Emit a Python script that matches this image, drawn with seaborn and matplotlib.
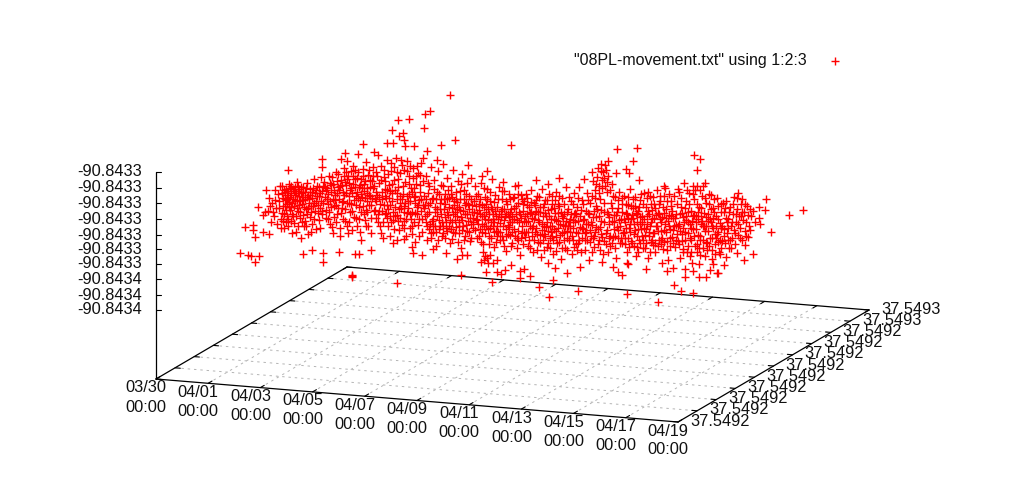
import pandas as pd
import matplotlib
matplotlib.use('Agg')
import matplotlib.pyplot as plt
import seaborn as sns

sns.set_style('white')
plt.rcParams['font.family'] = ['Liberation Sans', 'DejaVu Sans']

# base plane corners as projected on the page
front_left = (156, 379)
front_right = (678, 422)
back_left = (347, 267)
z_top = 172

date_labels = ['03/30', '04/01', '04/03', '04/05', '04/07', '04/09', '04/11', '04/13', '04/15', '04/17', '04/19']
lat_labels = ['37.5492'] * 8 + ['37.5492', '37.5493', '37.5493']
z_labels = ['-90.8433'] * 7 + ['-90.8434'] * 3
z_ticks_y = [172, 188, 203, 219, 235, 249, 264, 279, 295, 310]

# points, projected position, left to right
outliers_top = [(450, 95), (430, 111), (425, 114), (409, 119), (398, 120), (392, 130), (424, 128), (403, 133), (399, 136), (404, 140),
                (455, 140), (441, 145), (511, 145), (363, 144), (387, 143), (393, 143), (405, 146), (414, 146), (427, 151), (345, 153),
                (358, 154), (374, 152), (378, 155), (322, 159), (322, 167), (288, 170), (341, 159), (347, 161), (366, 162), (468, 165),
                (487, 171), (437, 160), (423, 158), (482, 176), (503, 182), (518, 185), (617, 149), (637, 148), (694, 155), (700, 159),
                (633, 161), (608, 161), (697, 170), (559, 178), (548, 184), (536, 180), (616, 173), (626, 169), (629, 173), (639, 180),
                (664, 186), (705, 183), (738, 193), (742, 199)]
outliers_low = [(240, 253), (248, 255), (251, 256), (259, 256), (255, 262), (303, 254), (312, 250), (323, 253), (323, 262), (339, 252),
                (355, 254), (359, 254), (371, 250), (352, 275), (352, 276), (352, 277), (397, 283), (461, 275), (492, 282), (457, 259),
                (462, 255), (467, 255), (486, 272), (497, 272), (505, 270), (501, 274), (520, 278), (520, 271), (524, 269), (483, 252),
                (485, 256), (487, 258), (484, 260), (490, 255), (488, 263), (481, 262), (493, 263), (497, 260), (511, 265), (413, 253),
                (422, 255), (433, 249), (446, 253), (412, 247), (245, 227), (253, 225), (253, 230), (263, 232), (269, 234), (255, 237),
                (258, 207), (263, 215), (265, 212), (674, 285), (681, 291), (693, 293), (658, 302), (627, 294), (578, 291), (549, 297),
                (539, 287), (553, 280), (530, 276), (567, 273), (555, 268), (548, 263), (580, 267), (602, 262), (613, 267), (618, 272),
                (622, 275), (627, 263), (628, 264), (646, 269), (662, 263), (667, 271), (673, 268), (685, 269), (685, 277), (693, 271),
                (699, 264), (699, 277), (706, 277), (713, 264), (710, 270), (717, 273), (718, 273), (724, 265), (726, 257), (737, 253),
                (744, 260), (745, 245), (748, 237), (753, 254), (750, 230), (771, 232), (760, 224), (759, 218), (750, 209), (759, 207),
                (765, 210), (766, 199), (789, 215), (803, 210)]

cloud_a = [(266, 190), (269, 198), (272, 203), (268, 211), (274, 216), (271, 222), (276, 208), (278, 194), (280, 186), (279, 201),
           (282, 213), (277, 224), (284, 228), (285, 192), (287, 204), (283, 198), (289, 184), (290, 197), (286, 210), (288, 219),
           (291, 207), (293, 189), (292, 214), (294, 223), (296, 193), (295, 201), (297, 182), (298, 211), (299, 196), (300, 218),
           (296, 232), (301, 187), (302, 204), (303, 192), (304, 226), (301, 238), (305, 199), (306, 209), (303, 215), (307, 183),
           (308, 195), (309, 203), (305, 221), (310, 189), (311, 212), (312, 198), (308, 234), (313, 206), (314, 179), (315, 193),
           (312, 224), (316, 201), (317, 186), (318, 213), (319, 196), (320, 208), (316, 229), (321, 177), (322, 191), (323, 203),
           (284, 190), (287, 195), (291, 193), (293, 199), (289, 202), (295, 187), (298, 191), (300, 201), (294, 206), (286, 200),
           (290, 188), (297, 200), (305, 192), (307, 197), (302, 197), (310, 195), (299, 205), (283, 206), (281, 219), (288, 226)]
cloud_a2 = [(282, 186), (285, 199), (288, 191), (291, 186), (292, 203), (295, 195), (298, 186), (301, 193), (303, 200), (306, 188),
            (309, 199), (312, 192), (314, 203), (317, 196), (319, 187), (321, 201), (290, 210), (293, 216), (297, 208), (300, 212),
            (304, 207), (307, 214), (311, 206), (315, 211), (318, 205), (322, 211), (284, 214), (287, 216), (275, 200), (273, 212),
            (283, 221), (286, 222), (291, 221), (296, 216), (302, 222), (306, 226), (310, 217), (314, 219), (319, 220), (275, 190),
            (270, 206), (279, 208), (282, 193), (285, 206), (288, 198), (294, 191), (299, 189), (303, 187), (308, 208), (313, 188),
            (316, 190), (320, 193), (323, 186), (281, 228), (292, 233), (298, 226), (311, 232), (320, 228), (286, 189), (289, 207)]
cloud_b = [(324, 182), (325, 197), (326, 210), (327, 188), (328, 219), (329, 176), (330, 201), (331, 192), (332, 227), (333, 184),
           (334, 206), (335, 195), (336, 172), (337, 214), (338, 187), (339, 199), (340, 236), (341, 180), (342, 208), (343, 192),
           (344, 168), (345, 221), (346, 185), (347, 203), (348, 176), (349, 196), (350, 212), (351, 188), (352, 230), (353, 166),
           (354, 200), (355, 179), (356, 218), (357, 192), (358, 172), (359, 207), (360, 185), (361, 240), (362, 197), (363, 169),
           (364, 214), (365, 181), (366, 226), (367, 193), (368, 175), (369, 205), (370, 187), (371, 233), (372, 198), (373, 167),
           (326, 190), (330, 183), (333, 199), (337, 193), (340, 186), (343, 201), (346, 193), (349, 183), (352, 193), (355, 187),
           (358, 198), (361, 179), (364, 191), (367, 201), (370, 180), (341, 213), (334, 217), (351, 204), (359, 219), (366, 210),
           (328, 204), (336, 205), (345, 182), (353, 176), (362, 188), (369, 195), (322, 214), (357, 226), (347, 226), (375, 199)]
cloud_b2 = [(325, 187), (328, 194), (331, 185), (334, 190), (337, 181), (339, 190), (342, 185), (344, 195), (347, 179), (350, 190),
            (353, 184), (356, 196), (359, 187), (361, 194), (364, 184), (367, 188), (370, 196), (373, 188), (327, 199), (331, 207),
            (335, 200), (338, 208), (342, 202), (345, 209), (349, 203), (352, 211), (356, 205), (360, 200), (363, 206), (367, 212),
            (371, 205), (374, 211), (326, 218), (330, 224), (336, 222), (343, 219), (349, 222), (354, 217), (361, 212), (365, 220),
            (371, 218), (332, 177), (338, 174), (346, 172), (351, 171), (357, 178), (363, 176), (369, 170), (373, 176), (329, 212),
            (344, 176), (355, 170), (340, 228), (348, 233), (360, 232), (368, 226), (333, 233), (376, 192), (372, 181), (365, 198)]
cloud_c = [(374, 186), (375, 210), (376, 172), (377, 195), (378, 222), (379, 183), (380, 204), (381, 166), (382, 192), (383, 238),
           (384, 177), (385, 214), (386, 198), (387, 160), (388, 226), (389, 185), (390, 205), (391, 171), (392, 193), (393, 243),
           (394, 180), (395, 216), (396, 158), (397, 199), (398, 187), (399, 230), (400, 173), (401, 208), (402, 165), (403, 194),
           (404, 221), (405, 182), (406, 236), (407, 161), (408, 201), (409, 176), (410, 214), (411, 188), (412, 226), (413, 168),
           (414, 197), (415, 242), (416, 184), (417, 207), (418, 173), (419, 219), (420, 192), (421, 163), (422, 232), (423, 181),
           (376, 218), (380, 226), (384, 205), (387, 218), (391, 222), (394, 229), (398, 221), (402, 225), (406, 219), (410, 228),
           (414, 222), (379, 197), (385, 189), (389, 198), (395, 190), (400, 196), (405, 203), (409, 194), (415, 203), (419, 200),
           (382, 211), (388, 209), (393, 212), (399, 209), (404, 212), (408, 208), (412, 212), (417, 214), (421, 211), (423, 205)]
cloud_c2 = [(376, 201), (379, 211), (382, 199), (385, 196), (387, 205), (390, 191), (392, 201), (395, 207), (397, 193), (400, 203),
            (402, 199), (404, 206), (407, 196), (410, 201), (412, 192), (415, 196), (418, 205), (421, 199), (377, 176), (381, 180),
            (384, 170), (388, 174), (391, 163), (394, 167), (397, 172), (401, 160), (404, 170), (407, 171), (410, 166), (413, 178),
            (417, 166), (420, 175), (378, 214), (383, 222), (386, 213), (390, 216), (393, 220), (397, 215), (400, 218), (404, 228),
            (407, 213), (411, 219), (415, 213), (418, 225), (422, 219), (381, 233), (390, 236), (397, 240), (404, 239), (412, 234),
            (419, 236), (385, 181), (392, 184), (398, 179), (403, 186), (409, 184), (414, 188), (420, 185), (387, 190), (416, 176)]
cloud_d = [(424, 196), (425, 216), (426, 176), (427, 240), (428, 205), (429, 186), (430, 224), (431, 167), (432, 199), (433, 232),
           (434, 180), (435, 212), (436, 246), (437, 192), (438, 171), (439, 220), (440, 203), (441, 185), (442, 236), (443, 164),
           (444, 209), (445, 194), (446, 228), (447, 178), (448, 215), (449, 198), (450, 243), (451, 186), (452, 222), (453, 170),
           (454, 205), (455, 233), (456, 192), (457, 216), (458, 181), (459, 226), (460, 199), (461, 248), (462, 174), (463, 211),
           (464, 190), (465, 236), (466, 203), (467, 183), (468, 221), (469, 196), (470, 241), (471, 178), (472, 212), (473, 228),
           (425, 205), (429, 212), (433, 219), (437, 209), (441, 214), (445, 217), (449, 207), (453, 214), (457, 209), (461, 217),
           (465, 214), (469, 209), (473, 218), (427, 226), (431, 233), (435, 226), (439, 229), (443, 226), (447, 231), (451, 229),
           (455, 220), (459, 233), (463, 226), (467, 231), (471, 224), (428, 193), (436, 199), (444, 199), (452, 197), (460, 191)]
cloud_d2 = [(424, 208), (427, 214), (430, 203), (432, 221), (435, 207), (437, 216), (440, 209), (442, 222), (445, 204), (447, 212),
            (450, 220), (452, 208), (455, 212), (457, 202), (460, 210), (462, 220), (465, 205), (467, 214), (470, 218), (472, 205),
            (426, 222), (429, 229), (433, 226), (436, 232), (440, 226), (443, 233), (446, 222), (449, 226), (453, 232), (456, 227),
            (459, 222), (462, 230), (466, 225), (469, 232), (473, 222), (428, 183), (434, 189), (439, 194), (443, 186), (448, 190),
            (451, 194), (456, 199), (461, 184), (466, 194), (471, 199), (431, 238), (438, 240), (445, 238), (452, 239), (458, 242),
            (464, 240), (471, 238), (426, 199), (433, 198), (441, 199), (447, 199), (454, 201), (459, 207), (464, 199), (468, 204)]
cloud_e = [(474, 201), (475, 186), (476, 219), (477, 238), (478, 194), (479, 210), (480, 229), (481, 183), (482, 205), (483, 244),
           (484, 216), (485, 197), (486, 226), (487, 189), (488, 209), (489, 236), (490, 201), (491, 222), (492, 179), (493, 214),
           (494, 247), (495, 195), (496, 231), (497, 207), (498, 219), (499, 187), (500, 240), (501, 211), (502, 199), (503, 226),
           (504, 191), (505, 216), (506, 251), (507, 204), (508, 234), (509, 194), (510, 222), (511, 209), (512, 243), (513, 198),
           (514, 229), (515, 186), (516, 214), (517, 238), (518, 203), (519, 222), (520, 255), (521, 195), (522, 233), (523, 211),
           (476, 206), (480, 214), (484, 207), (488, 220), (492, 209), (496, 216), (500, 223), (504, 209), (508, 214), (512, 222),
           (516, 206), (520, 214), (524, 221), (478, 224), (482, 232), (486, 212), (490, 228), (494, 222), (498, 232), (502, 236),
           (506, 229), (510, 235), (514, 219), (518, 231), (522, 226), (477, 213), (485, 219), (493, 226), (501, 217), (509, 217)]
cloud_e2 = [(474, 212), (477, 220), (479, 204), (482, 216), (484, 226), (486, 204), (489, 214), (491, 207), (493, 219), (495, 211),
            (497, 226), (499, 214), (502, 209), (504, 220), (506, 214), (508, 225), (510, 212), (512, 216), (514, 208), (517, 220),
            (519, 212), (521, 218), (523, 204), (475, 230), (479, 236), (482, 224), (485, 233), (488, 229), (491, 238), (494, 232),
            (497, 236), (500, 232), (503, 240), (506, 236), (509, 227), (512, 232), (515, 236), (518, 240), (521, 238), (524, 232),
            (476, 196), (480, 199), (484, 188), (487, 199), (490, 192), (494, 202), (498, 199), (502, 191), (506, 201), (510, 199),
            (514, 197), (518, 194), (522, 199), (481, 242), (489, 244), (496, 242), (504, 246), (511, 246), (517, 248), (523, 244)]
cloud_f = [(524, 201), (525, 237), (526, 194), (527, 214), (528, 246), (529, 207), (530, 226), (531, 190), (532, 218), (533, 252),
           (534, 203), (535, 232), (536, 211), (537, 196), (538, 242), (539, 222), (540, 207), (541, 257), (542, 189), (543, 216),
           (544, 234), (545, 200), (546, 227), (547, 247), (548, 210), (549, 194), (550, 238), (551, 219), (552, 204), (553, 254),
           (554, 229), (555, 213), (556, 192), (557, 243), (558, 221), (559, 206), (560, 235), (561, 259), (562, 198), (563, 225),
           (564, 214), (565, 248), (566, 187), (567, 231), (568, 209), (569, 240), (570, 219), (571, 201), (572, 254), (573, 228),
           (526, 222), (530, 213), (534, 219), (538, 212), (542, 224), (546, 216), (550, 226), (554, 219), (558, 213), (562, 216),
           (566, 221), (570, 226), (574, 214), (528, 232), (532, 236), (536, 228), (540, 235), (544, 226), (548, 231), (552, 236),
           (556, 231), (560, 224), (564, 232), (568, 226), (572, 236), (527, 205), (535, 205), (543, 207), (551, 209), (559, 196)]
cloud_f2 = [(525, 216), (528, 221), (531, 212), (533, 226), (535, 214), (538, 220), (540, 212), (542, 230), (545, 213), (547, 222),
            (549, 216), (552, 226), (554, 208), (556, 220), (558, 228), (561, 212), (563, 218), (565, 226), (567, 212), (569, 222),
            (571, 214), (573, 220), (526, 232), (529, 240), (532, 228), (534, 240), (537, 234), (540, 243), (543, 240), (545, 236),
            (548, 243), (551, 232), (553, 240), (556, 237), (559, 242), (562, 233), (564, 240), (567, 238), (570, 232), (573, 240),
            (527, 198), (531, 202), (536, 200), (539, 197), (544, 204), (547, 200), (552, 196), (555, 200), (558, 204), (564, 204),
            (569, 197), (573, 204), (530, 248), (537, 250), (544, 250), (550, 248), (556, 251), (562, 248), (567, 250), (574, 247)]
cloud_g = [(574, 193), (575, 222), (576, 244), (577, 207), (578, 233), (579, 187), (580, 216), (581, 252), (582, 200), (583, 229),
           (584, 179), (585, 240), (586, 211), (587, 193), (588, 224), (589, 260), (590, 203), (591, 236), (592, 172), (593, 217),
           (594, 247), (595, 190), (596, 227), (597, 209), (598, 168), (599, 240), (600, 199), (601, 221), (602, 180), (603, 254),
           (604, 212), (605, 165), (606, 233), (607, 192), (608, 176), (609, 224), (610, 246), (611, 203), (612, 184), (613, 237),
           (614, 215), (615, 197), (616, 258), (617, 227), (618, 208), (619, 192), (620, 243), (621, 219), (622, 204), (623, 233),
           (576, 214), (580, 227), (584, 219), (588, 213), (592, 225), (596, 217), (600, 227), (604, 222), (608, 214), (612, 221),
           (616, 215), (620, 226), (624, 219), (578, 243), (582, 238), (586, 232), (590, 242), (594, 236), (598, 229), (602, 237),
           (606, 244), (610, 236), (614, 229), (618, 238), (622, 243), (593, 181), (597, 177), (601, 171), (604, 178), (599, 186)]
cloud_g2 = [(575, 213), (578, 221), (581, 210), (583, 220), (586, 224), (589, 214), (591, 222), (594, 211), (596, 206), (599, 216),
            (601, 210), (604, 203), (607, 212), (609, 217), (612, 208), (614, 222), (617, 212), (619, 220), (622, 212), (576, 232),
            (579, 240), (582, 228), (585, 233), (587, 240), (590, 230), (593, 238), (595, 232), (598, 244), (601, 234), (604, 241),
            (607, 230), (609, 238), (612, 243), (615, 236), (618, 230), (621, 238), (624, 232), (578, 198), (583, 204), (588, 200),
            (592, 196), (595, 198), (599, 193), (602, 188), (605, 186), (607, 182), (610, 190), (613, 196), (618, 200), (622, 198),
            (596, 184), (601, 164), (606, 170), (603, 172), (577, 250), (585, 250), (592, 252), (600, 250), (608, 252), (615, 248)]
cloud_h = [(624, 196), (625, 238), (626, 213), (627, 252), (628, 205), (629, 228), (630, 189), (631, 219), (632, 243), (633, 208),
           (634, 234), (635, 197), (636, 256), (637, 222), (638, 211), (639, 240), (640, 200), (641, 229), (642, 216), (643, 248),
           (644, 193), (645, 235), (646, 207), (647, 224), (648, 258), (649, 214), (650, 196), (651, 242), (652, 219), (653, 233),
           (654, 204), (655, 252), (656, 226), (657, 190), (658, 213), (659, 240), (660, 201), (661, 231), (662, 217), (663, 249),
           (664, 196), (665, 224), (666, 209), (667, 241), (668, 260), (669, 215), (670, 229), (671, 201), (672, 237), (673, 218),
           (626, 228), (630, 232), (634, 224), (638, 229), (642, 236), (646, 229), (650, 226), (654, 233), (658, 231), (662, 238),
           (666, 232), (670, 238), (674, 226), (628, 218), (632, 215), (636, 213), (640, 217), (644, 219), (648, 211), (652, 210),
           (656, 215), (660, 219), (664, 213), (668, 221), (672, 211), (629, 247), (637, 247), (645, 248), (653, 245), (661, 244)]
cloud_h2 = [(625, 222), (627, 214), (630, 224), (633, 218), (635, 230), (637, 214), (640, 224), (642, 222), (644, 228), (647, 216),
            (649, 232), (651, 222), (654, 218), (657, 226), (659, 214), (661, 222), (664, 230), (666, 218), (669, 226), (671, 216),
            (673, 230), (625, 244), (628, 238), (631, 241), (634, 246), (637, 236), (640, 243), (643, 240), (646, 243), (649, 236),
            (652, 240), (655, 243), (658, 246), (661, 240), (664, 242), (667, 250), (670, 246), (673, 243), (626, 204), (631, 206),
            (635, 206), (639, 207), (643, 204), (647, 198), (651, 204), (655, 208), (659, 204), (663, 207), (667, 201), (671, 206),
            (628, 197), (633, 199), (641, 194), (648, 192), (653, 197), (660, 196), (665, 188), (669, 194), (638, 252), (650, 252)]
cloud_i = [(674, 196), (675, 247), (676, 214), (677, 234), (678, 189), (679, 224), (680, 258), (681, 207), (682, 241), (683, 217),
           (684, 183), (685, 232), (686, 201), (687, 252), (688, 222), (689, 193), (690, 238), (691, 211), (692, 263), (693, 229),
           (694, 199), (695, 246), (696, 216), (697, 186), (698, 235), (699, 207), (700, 255), (701, 224), (702, 196), (703, 240),
           (704, 213), (705, 231), (706, 203), (707, 250), (708, 221), (709, 194), (710, 238), (711, 209), (712, 259), (713, 228),
           (714, 199), (715, 244), (716, 216), (717, 234), (718, 206), (719, 252), (720, 223), (721, 212), (722, 241), (723, 203),
           (676, 225), (680, 231), (684, 222), (688, 233), (692, 221), (696, 229), (700, 236), (704, 226), (708, 231), (712, 226),
           (716, 238), (720, 240), (724, 229), (678, 241), (682, 213), (686, 216), (690, 224), (694, 215), (698, 219), (702, 221),
           (706, 217), (710, 219), (714, 212), (718, 219), (722, 226), (683, 249), (691, 252), (699, 248), (707, 243), (715, 254)]
cloud_i2 = [(675, 218), (678, 226), (680, 214), (683, 228), (686, 220), (688, 212), (691, 228), (693, 216), (696, 222), (698, 212),
            (701, 216), (703, 226), (706, 226), (708, 214), (711, 222), (713, 218), (716, 226), (718, 232), (721, 228), (676, 240),
            (679, 244), (682, 234), (685, 240), (688, 246), (691, 240), (694, 236), (697, 244), (700, 240), (703, 248), (706, 242),
            (709, 246), (712, 238), (715, 234), (718, 242), (721, 248), (677, 204), (681, 198), (685, 208), (689, 204), (693, 194),
            (697, 204), (701, 208), (705, 198), (709, 204), (713, 208), (717, 198), (721, 204), (679, 192), (687, 190), (695, 190),
            (703, 186), (711, 195), (693, 186), (700, 190), (683, 252), (690, 256), (697, 252), (705, 256), (712, 250), (720, 254)]
cloud_j = [(724, 212), (725, 243), (726, 201), (727, 233), (728, 219), (729, 248), (730, 207), (731, 226), (732, 238), (733, 214),
           (734, 197), (735, 244), (736, 222), (737, 209), (738, 235), (739, 216), (740, 228), (741, 204), (742, 240), (743, 220),
           (744, 212), (745, 231), (746, 222), (747, 206), (749, 226), (751, 216), (753, 211), (755, 222), (748, 215), (727, 222)]
cloud_j2 = [(724, 236), (726, 218), (728, 228), (730, 240), (732, 222), (734, 230), (736, 214), (738, 224), (740, 238), (742, 212),
            (725, 208), (729, 212), (733, 204), (737, 198), (741, 216), (746, 236), (745, 204), (728, 240), (735, 233), (731, 248)]

points = pd.DataFrame(outliers_top + outliers_low + cloud_a + cloud_a2 + cloud_b + cloud_b2 + cloud_c + cloud_c2
                      + cloud_d + cloud_d2 + cloud_e + cloud_e2 + cloud_f + cloud_f2 + cloud_g + cloud_g2
                      + cloud_h + cloud_h2 + cloud_i + cloud_i2 + cloud_j + cloud_j2, columns=['page_x', 'page_y'])


def project(u, v):
    # u along the time edge, v along the latitude edge, both 0..1
    x = front_left[0] + u * (front_right[0] - front_left[0]) + v * (back_left[0] - front_left[0])
    y = front_left[1] + u * (front_right[1] - front_left[1]) + v * (back_left[1] - front_left[1])
    return x, y


def seg(ax, p, q, **kw):
    ax.plot([p[0], q[0]], [p[1], q[1]], **kw)


fig = plt.figure(figsize=(10.24, 5), dpi=100)
ax = fig.add_axes([0, 0, 1, 1])
ax.set_xlim(0, 1024)
ax.set_ylim(500, 0)
ax.axis('off')

grid = dict(color='#b4b4b4', lw=0.7, ls=(0, (2.5, 4)), zorder=1)
tick = dict(color='black', lw=0.8, zorder=2)
edge = dict(color='black', lw=0.9, zorder=2)

for i in range(1, 10):
    seg(ax, project(i / 10, 0), project(i / 10, 1), **grid)
    seg(ax, project(0, i / 10), project(1, i / 10), **grid)

for i in range(11):
    # ticks on all four sides, pointing inwards
    seg(ax, project(i / 10, 0), project(i / 10, 0.02), **tick)
    seg(ax, project(i / 10, 1), project(i / 10, 0.98), **tick)
    seg(ax, project(0, i / 10), project(0.01, i / 10), **tick)
    seg(ax, project(1, i / 10), project(0.99, i / 10), **tick)

    x, y = project(i / 10, 0)
    ax.text(x - 10, y + 9, date_labels[i], ha='center', va='center', fontsize=11.8, color='#111111')
    ax.text(x - 10, y + 28, '00:00', ha='center', va='center', fontsize=11.8, color='#111111')

    x, y = project(1, i / 10)
    ax.text(x + 12, y - 1, lat_labels[i], ha='left', va='center', fontsize=11.8, color='#111111')

seg(ax, project(0, 0), project(1, 0), **edge)
seg(ax, project(1, 0), project(1, 1), **edge)
seg(ax, project(1, 1), project(0, 1), **edge)
seg(ax, project(0, 1), project(0, 0), **edge)

seg(ax, front_left, (front_left[0], z_top), **edge)
for yy, lab in zip(z_ticks_y, z_labels):
    seg(ax, (front_left[0], yy), (front_left[0] + 5, yy), **tick)
    ax.text(142, yy, lab, ha='right', va='center', fontsize=11.8, color='#111111')

sns.scatterplot(data=points, x='page_x', y='page_y', marker='+', s=38, color='#ff0000',
                linewidth=1.0, ax=ax, zorder=3, label='"08PL-movement.txt" using 1:2:3')
ax.set_xlabel('')
ax.set_ylabel('')
ax.axis('off')

leg = ax.legend(loc='upper right', bbox_to_anchor=(843 / 1024, 1 - 53 / 500), frameon=False, markerfirst=False,
                fontsize=11.5, borderpad=0, borderaxespad=0, handletextpad=1.3, handlelength=1)
leg.get_texts()[0].set_color('#111111')

fig.savefig('out.png', dpi=100)
